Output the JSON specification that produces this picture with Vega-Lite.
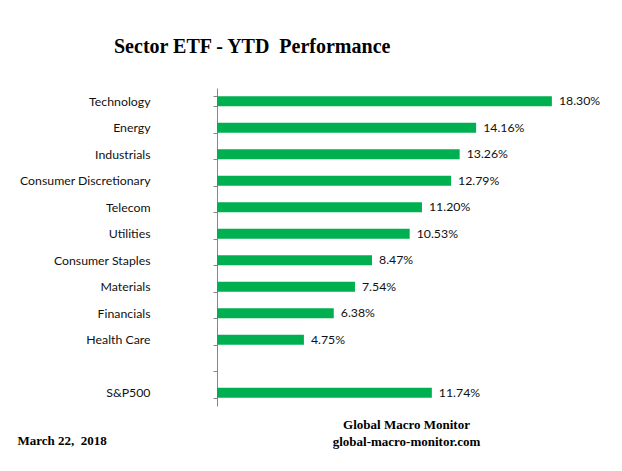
{
  "$schema": "https://vega.github.io/schema/vega-lite/v6.json",
  "width": 366,
  "height": 318,
  "autosize": {"type": "none"},
  "padding": {"left": 217, "top": 88, "right": 39, "bottom": 65},
  "background": "white",
  "title": {
    "text": "Sector ETF - YTD\u00a0 Performance",
    "font": "Liberation Serif",
    "fontSize": 20,
    "fontWeight": "bold",
    "color": "black",
    "anchor": "start",
    "frame": "group",
    "dx": -103,
    "offset": 25
  },
  "data": {
    "values": [
      {"sector": "Technology", "ytd": 0.1830},
      {"sector": "Energy", "ytd": 0.1416},
      {"sector": "Industrials", "ytd": 0.1326},
      {"sector": "Consumer Discretionary", "ytd": 0.1279},
      {"sector": "Telecom", "ytd": 0.1120},
      {"sector": "Utilities", "ytd": 0.1053},
      {"sector": "Consumer Staples", "ytd": 0.0847},
      {"sector": "Materials", "ytd": 0.0754},
      {"sector": "Financials", "ytd": 0.0638},
      {"sector": "Health Care", "ytd": 0.0475},
      {"sector": "S&P500", "ytd": 0.1174}
    ]
  },
  "encoding": {
    "y": {
      "field": "sector",
      "type": "nominal",
      "scale": {
        "domain": ["Technology", "Energy", "Industrials", "Consumer Discretionary", "Telecom", "Utilities", "Consumer Staples", "Materials", "Financials", "Health Care", " ", "S&P500"],
        "paddingInner": 0.62,
        "paddingOuter": 0.31
      },
      "axis": {
        "title": "March 22,\u00a0 2018",
        "titleAngle": 0,
        "titleAlign": "left",
        "titleBaseline": "alphabetic",
        "titleX": -200,
        "titleY": 356,
        "titleFont": "Liberation Serif",
        "titleFontSize": 13,
        "titleFontWeight": "bold",
        "titleColor": "black",
        "tickBand": "extent",
        "tickSize": 4,
        "tickColor": "#868686",
        "domainColor": "#868686",
        "labelPadding": 63,
        "labelFont": "Lato",
        "labelFontSize": 12.3,
        "labelColor": "#111111",
        "grid": false
      }
    },
    "x": {
      "field": "ytd",
      "type": "quantitative",
      "scale": {"domain": [0, 0.2]},
      "axis": {
        "title": ["Global Macro Monitor", "global-macro-monitor.com"],
        "titleX": 189,
        "titleY": 22,
        "titleAlign": "center",
        "titleBaseline": "alphabetic",
        "titleLineHeight": 17,
        "titleFont": "Liberation Serif",
        "titleFontSize": 13,
        "titleFontWeight": "bold",
        "titleColor": "black",
        "domain": false,
        "ticks": false,
        "labels": false,
        "grid": false
      }
    }
  },
  "layer": [
    {"mark": {"type": "bar", "color": "#00B050"}},
    {
      "mark": {"type": "text", "align": "left", "baseline": "middle", "dx": 7, "font": "Lato", "fontSize": 12.3, "color": "#111111"},
      "encoding": {"text": {"field": "ytd", "type": "quantitative", "format": ".2%"}}
    }
  ],
  "config": {"view": {"stroke": null}}
}
